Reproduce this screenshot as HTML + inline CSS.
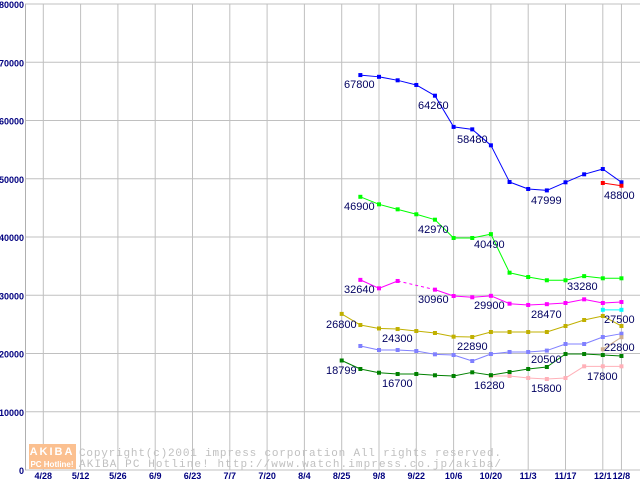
<!DOCTYPE html>
<html><head><meta charset="utf-8"><style>
body{margin:0;background:#fff;}
svg{display:block;font-family:"Liberation Sans",sans-serif;}
</style></head><body>
<svg id="chart" width="640" height="480" viewBox="0 0 640 480">
<g id="grid"></g>
<g id="yticks"></g>
<g id="xticks"></g>
<g id="wm">
 <rect x="29" y="444" width="47" height="25" fill="#fbc090"/>
 <text x="52" y="455" font-size="11" font-weight="bold" fill="#fff" text-anchor="middle" letter-spacing="2">AKIBA</text>
 <text x="52" y="467" font-size="8" font-weight="bold" fill="#fff" text-anchor="middle">PC Hotline!</text>
 <text x="79" y="456" font-family="Liberation Mono,monospace" font-size="11" fill="#c0c0c0" textLength="422">Copyright(c)2001 impress corporation All rights reserved.</text>
 <text x="79" y="467" font-family="Liberation Mono,monospace" font-size="11" fill="#c0c0c0" textLength="422">AKIBA PC Hotline!  http://www.watch.impress.co.jp/akiba/</text>
</g>
<g id="series"></g>
<g id="labels"></g>
</svg>
<script>
const yTicks=[0,10000,20000,30000,40000,50000,60000,70000,80000];
const xTickLabels=["4/28","5/12","5/26","6/9","6/23","7/7","7/20","8/4","8/25","9/8","9/22","10/6","10/20","11/3","11/17","12/1","12/8"];
const xTickIdx=[-16,-14,-12,-10,-8,-6,-4,-2,0,2,4,6,8,10,12,14,15];
const blueIdx=[1,2,3,4,5,6,7,8,9,10,11,12,13,14,15];
const blueVals=[67800,67500,66900,66100,64260,58900,58480,55740,49440,48240,47999,49390,50760,51670,49390];
const redIdx=[14,15];
const redVals=[49270,48800];
const greenIdx=[1,2,3,4,5,6,7,8,9,10,11,12,13,14,15];
const greenVals=[46900,45610,44750,43900,42970,39830,39830,40490,33870,33130,32570,32570,33280,32910,32910];
const magIdx=[1,2,3,5,6,7,8,9,10,11,12,13,14,15];
const magVals=[32640,31190,32450,30960,29870,29650,29900,28550,28330,28470,28670,29300,28670,28840];
const oliveIdx=[0,1,2,3,4,5,6,7,8,9,10,11,12,13,14,15];
const oliveVals=[26800,24890,24300,24200,23860,23520,22890,22830,23690,23690,23690,23690,24720,25750,26440,24720];
const cyanIdx=[14,15];
const cyanVals=[27500,27500];
const lblueIdx=[1,2,3,4,5,6,7,8,9,10,11,12,13,14,15];
const lblueVals=[21290,20600,20600,20430,19860,19740,18710,19910,20260,20260,20500,21630,21630,22830,23400];
const tanIdx=[14,15];
const tanVals=[20720,22800];
const dgreenIdx=[0,1,2,3,4,5,6,7,8,9,10,11,12,13,14,15];
const dgreenVals=[18799,17340,16700,16480,16480,16260,16140,16770,16280,16820,17340,17680,19910,19910,19740,19570];
const pinkIdx=[8,9,10,11,12,13,14,15];
const pinkVals=[16140,16140,15800,15620,15790,17800,17800,17800];

const NS="http://www.w3.org/2000/svg";
const x=i=>341.7+18.65*i;
const y=v=>470-v/80000*466;
function mk(tag,attrs,parent){const e=document.createElementNS(NS,tag);for(const k in attrs)e.setAttribute(k,attrs[k]);parent.appendChild(e);return e;}
const grid=document.getElementById('grid'),yt=document.getElementById('yticks'),xt=document.getElementById('xticks');
yTicks.forEach(v=>{
 const l=mk('line',{x1:25,x2:640,y1:y(v),y2:y(v),stroke:'#c0c0c0','stroke-width':1},grid);
 
 
 const t=mk('text',{x:24,y:y(v)+4,'text-anchor':'end','font-size':9,'font-weight':'bold',fill:'#000080'},yt);
 t.textContent=v;
 
 
});
const ax=mk('line',{x1:25.5,x2:25.5,y1:4,y2:470,stroke:'#b0b0b0'},grid);


xTickIdx.forEach((i,k)=>{
 const l=mk('line',{x1:x(i),x2:x(i),y1:4,y2:470,stroke:'#c0c0c0'},grid);
 
 
 const t=mk('text',{x:x(i),y:479,'text-anchor':'middle','font-size':9,'font-weight':'bold',fill:'#000080'},xt);
 t.textContent=xTickLabels[k];
 
 
});
const ser=document.getElementById('series');
function series(name,idx,vals,color,dashGap){
 const g=mk('g',{},ser);
 
 
 for(let k=0;k<idx.length-1;k++){
  const a={x1:x(idx[k]),y1:y(vals[k]),x2:x(idx[k+1]),y2:y(vals[k+1]),stroke:color,'stroke-width':1};
  if(dashGap&&idx[k+1]-idx[k]>1)a['stroke-dasharray']='3,3';
  const l=mk('line',a,g);
  
  
 }
 idx.forEach((i,k)=>{
  const r=mk('rect',{x:x(i)-2,y:y(vals[k])-2,width:4,height:4,fill:color},g);
  
  
 });
}
series('olive-series',oliveIdx,oliveVals,'#c0b000');
series('light-blue-series',lblueIdx,lblueVals,'#8080ff');
series('pink-series',pinkIdx,pinkVals,'#ffb0b8');
series('tan-series',tanIdx,tanVals,'#d0b090');
series('cyan-series',cyanIdx,cyanVals,'#00ffff');
series('dark-green-series',dgreenIdx,dgreenVals,'#008000');
series('magenta-series',magIdx,magVals,'#ff00ff',true);
series('green-series',greenIdx,greenVals,'#00ff00');
series('blue-series',blueIdx,blueVals,'#0000ff');
series('red-series',redIdx,redVals,'#ff0000');
const labelText=["67800","64260","58480","47999","48800","46900","42970","40490","33280","32640","30960","29900","28470","26800","27500","24300","22890","22800","20500","18799","16700","16280","15800","17800"];
const labelPos=[[344,84],[418,105],[457,139],[531,200],[604,195],[344,206],[418,229],[474,244],[567,286],[344,289],[418,299],[474,305],[531,314],[326,324],[604,319],[382,338],[457,346],[604,347],[531,359],[326,370],[382,383],[474,385],[531,388],[587,376]];
const lg=document.getElementById('labels');
labelText.forEach((s,k)=>{
 const t=mk('text',{x:labelPos[k][0],y:labelPos[k][1]+4,'font-size':11,fill:'#000060'},lg);
 t.textContent=s;
 
 
});
</script>
</body></html>
